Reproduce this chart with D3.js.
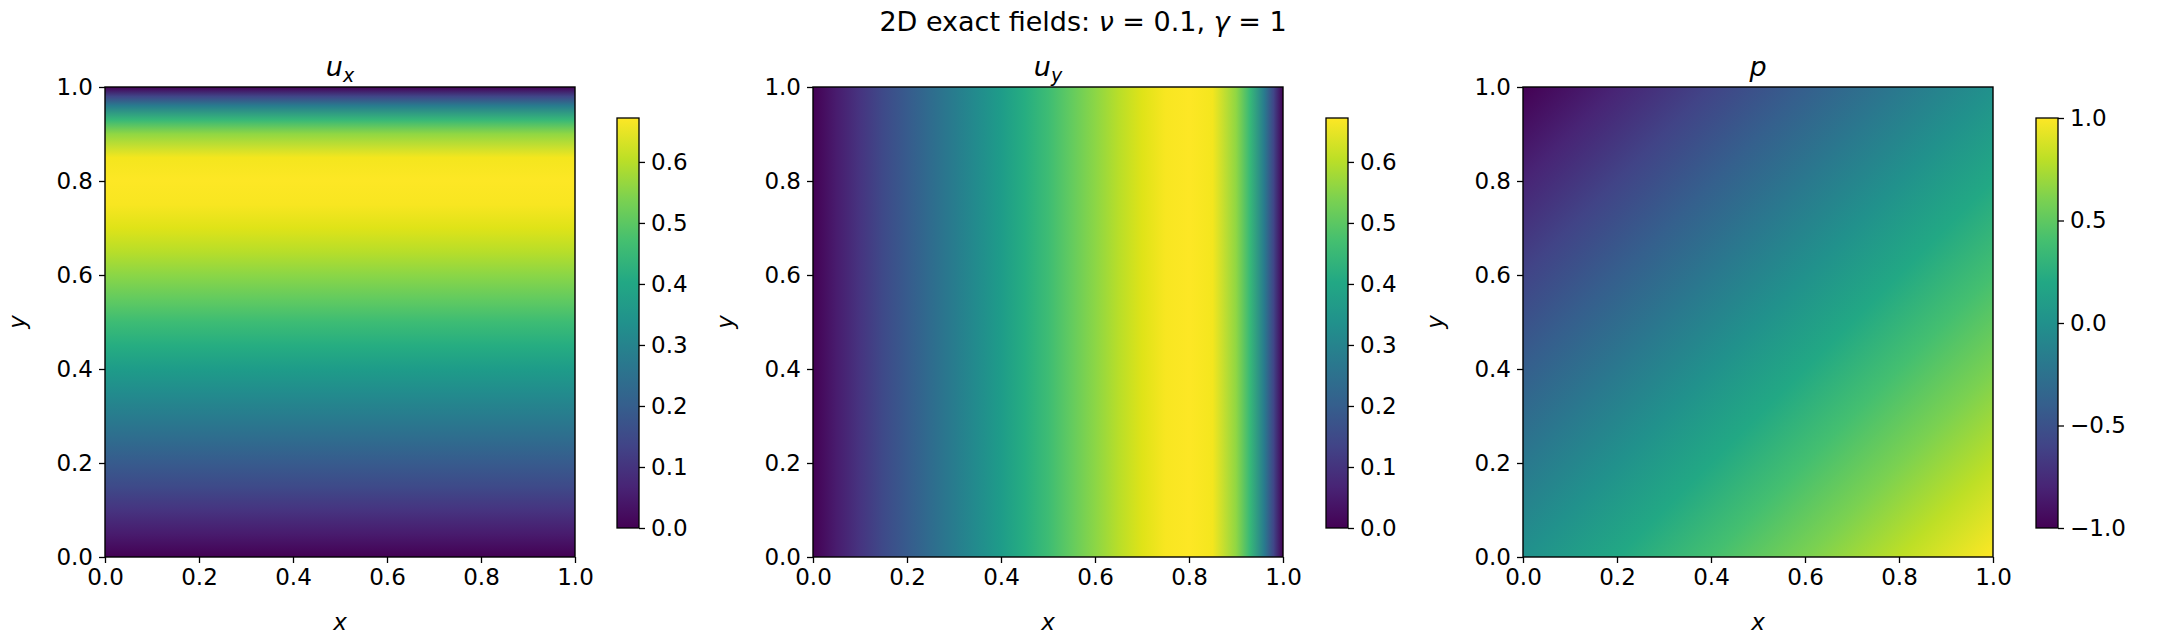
<!DOCTYPE html>
<html><head><meta charset="utf-8">
<script src="https://cdn.jsdelivr.net/npm/d3@7"></script>
<style>body{margin:0;background:#fff}text{font-family:"DejaVu Sans",sans-serif;fill:#000}</style>
</head><body><svg id="c" width="2166" height="636"></svg>
<script>
// profile samples (position 0..1 -> value)
const profilePos = [0,0.05,0.1,0.15,0.2,0.25,0.3,0.35,0.4,0.45,0.5,0.55,0.6,0.65,0.7,0.75,0.8,0.85,0.9,0.93,0.96,0.98,1];
const uxProfile = [0,0.05,0.1,0.15,0.19,0.235,0.28,0.325,0.37,0.415,0.46,0.51,0.555,0.6,0.64,0.665,0.672,0.66,0.56,0.45,0.28,0.14,0];
const uyProfile = uxProfile;
const pCorners = {min:-1, max:1};
const axisTicks = [0,0.2,0.4,0.6,0.8,1.0];
const velTicks = [0,0.1,0.2,0.3,0.4,0.5,0.6];
const pTicks = [-1,-0.5,0,0.5,1];
const velMax = 0.672;

const svg = d3.select("#c");
const defs = svg.append("defs");
svg.append("text").attr("x",1083).attr("y",31).attr("text-anchor","middle").attr("font-size",27)
  .html('2D exact fields: <tspan font-style="italic">ν</tspan> = 0.1, <tspan font-style="italic">γ</tspan> = 1');

const panels = [
 {x0:105, title:'u<tspan font-size="19" dy="6">x</tspan>', kind:"ux", cb:{x:617, dom:[0,velMax], ticks:velTicks}},
 {x0:813, title:'u<tspan font-size="19" dy="6">y</tspan>', kind:"uy", cb:{x:1326, dom:[0,velMax], ticks:velTicks}},
 {x0:1523, title:'p', kind:"p", cb:{x:2036, dom:[-1,1], ticks:pTicks}}
];
const W=470, pTop=87, pBot=557, H=pBot-pTop;
const fmt=d3.format(".1f");
const minusFmt = v => fmt(v).replace("-","−");

panels.forEach((P,i)=>{
  const g=svg.append("g");
  const xs=d3.scaleLinear([0,1],[P.x0,P.x0+W]);
  const ys=d3.scaleLinear([0,1],[pBot,pTop]);
  const col=d3.scaleSequential(d3.interpolateViridis).domain(P.cb.dom);
  const id="g"+i;
  let grad;
  if(P.kind==="ux"){
    grad=defs.append("linearGradient").attr("id",id).attr("x1",0).attr("y1",1).attr("x2",0).attr("y2",0);
    profilePos.forEach((t,k)=>grad.append("stop").attr("offset",t).attr("stop-color",col(uxProfile[k])));
  } else if(P.kind==="uy"){
    grad=defs.append("linearGradient").attr("id",id).attr("x1",0).attr("y1",0).attr("x2",1).attr("y2",0);
    profilePos.forEach((t,k)=>grad.append("stop").attr("offset",t).attr("stop-color",col(uyProfile[k])));
  } else {
    grad=defs.append("linearGradient").attr("id",id).attr("gradientUnits","userSpaceOnUse")
      .attr("x1",xs(0)).attr("y1",ys(1)).attr("x2",xs(1)).attr("y2",ys(0));
    d3.range(0,11).forEach(k=>{const t=k/10;grad.append("stop").attr("offset",t)
      .attr("stop-color",col(pCorners.min+(pCorners.max-pCorners.min)*t));});
  }
  g.append("rect").attr("x",xs(0)).attr("y",ys(1)).attr("width",W).attr("height",H).attr("fill",`url(#${id})`);
  g.append("rect").attr("x",xs(0)).attr("y",ys(1)).attr("width",W).attr("height",H).attr("fill","none").attr("stroke","#000").attr("stroke-width",1.4);
  const ax=g.append("g").attr("transform",`translate(0,${pBot})`).call(d3.axisBottom(xs).tickValues(axisTicks).tickFormat(fmt).tickSize(6).tickPadding(6));
  const ay=g.append("g").attr("transform",`translate(${P.x0},0)`).call(d3.axisLeft(ys).tickValues(axisTicks).tickFormat(fmt).tickSize(6).tickPadding(6));
  [ax,ay].forEach(a=>{a.select(".domain").remove();a.selectAll("text").attr("font-size",23).attr("font-family","DejaVu Sans");a.selectAll("line").attr("stroke-width",1.3);});
  g.append("text").attr("x",P.x0+W/2).attr("y",76).attr("text-anchor","middle").attr("font-size",27).attr("font-style","italic").html(P.title);
  g.append("text").attr("x",P.x0+W/2).attr("y",630).attr("text-anchor","middle").attr("font-size",23).attr("font-style","italic").text("x");
  g.append("text").attr("transform",`translate(${P.x0-80},${(pTop+pBot)/2}) rotate(-90)`).attr("text-anchor","middle").attr("font-size",23).attr("font-style","italic").text("y");
  // colorbar
  const cbT=118, cbB=528, cbW=22;
  const cs=d3.scaleLinear(P.cb.dom,[cbB,cbT]);
  const cid="cb"+i;
  const cg=defs.append("linearGradient").attr("id",cid).attr("x1",0).attr("y1",1).attr("x2",0).attr("y2",0);
  d3.range(0,11).forEach(k=>cg.append("stop").attr("offset",k/10).attr("stop-color",d3.interpolateViridis(k/10)));
  g.append("rect").attr("x",P.cb.x).attr("y",cbT).attr("width",cbW).attr("height",cbB-cbT).attr("fill",`url(#${cid})`).attr("stroke","#000").attr("stroke-width",1.3);
  const ca=g.append("g").attr("transform",`translate(${P.cb.x+cbW},0)`).call(d3.axisRight(cs).tickValues(P.cb.ticks).tickFormat(minusFmt).tickSize(6).tickPadding(6));
  ca.select(".domain").remove();ca.selectAll("text").attr("font-size",23).attr("font-family","DejaVu Sans");ca.selectAll("line").attr("stroke-width",1.3);
});
</script></body></html>
